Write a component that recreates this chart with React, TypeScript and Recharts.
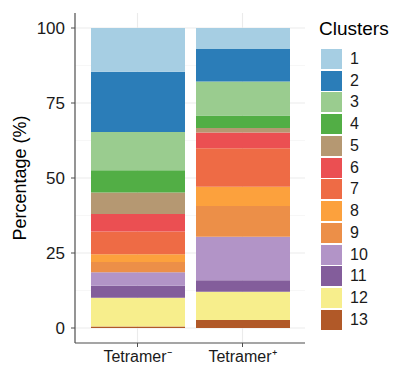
import { BarChart, Bar, XAxis, YAxis, CartesianGrid } from 'recharts';

const categories = ['Tetramer⁻', 'Tetramer⁺'];
const clusters = ['1', '2', '3', '4', '5', '6', '7', '8', '9', '10', '11', '12', '13'];
const clusterColors = [
  '#A6CEE3', '#2B7DB8', '#9ACC8F', '#52AE45', '#B59872', '#EB4F52', '#EE6B45',
  '#FCA13D', '#EC8F48', '#B294C7', '#835D9B', '#F7EE8C', '#B15928',
];
// percentage of cells per cluster in each group
const tetramerNeg = [14.6, 20.1, 12.7, 7.4, 7.2, 5.8, 7.6, 2.6, 3.4, 4.5, 4.0, 9.6, 0.5];
const tetramerPos = [7.0, 10.8, 11.4, 4.1, 1.5, 5.3, 12.8, 6.4, 10.3, 14.5, 3.8, 9.4, 2.7];
const yTicks = [0, 25, 50, 75, 100];
const yMinor = [12.5, 37.5, 62.5, 87.5];

const groups = [tetramerNeg, tetramerPos];
const data = categories.map((name, i) => {
  const row: Record<string, string | number> = { name };
  clusters.forEach((c, j) => {
    row['c' + c] = groups[i][j];
  });
  return row;
});

const font = '"Liberation Sans", Arial, sans-serif';
const borderColor = '#4D4D4D';
const xPad = 10;

function YLabel(props: any) {
  const { viewBox } = props;
  const x = viewBox.x + 20;
  const y = viewBox.y + viewBox.height / 2;
  return (
    <text
      x={x}
      y={y}
      transform={`rotate(-90 ${x} ${y})`}
      textAnchor="middle"
      dominantBaseline="central"
      fontSize={18}
      fill="#000"
      fontFamily={font}
    >
      Percentage (%)
    </text>
  );
}

// vertical grid lines through the middle of each category band
function categoryCentres(props: any) {
  const { offset } = props;
  const band = (offset.width - 2 * xPad) / categories.length;
  return categories.map((_, i) => offset.left + xPad + band * (i + 0.5));
}

export default function App() {
  return (
    <div style={{ position: 'absolute', left: 0, top: 0, width: 394, height: 367, background: '#fff' }}>
      <BarChart
        width={394}
        height={367}
        data={data}
        margin={{ top: 13, right: 89, bottom: 0, left: 0 }}
        style={{ fontFamily: font }}
      >
        <CartesianGrid
          horizontalValues={yMinor}
          vertical={false}
          stroke="#F2F2F2"
          strokeWidth={0.6}
        />
        <CartesianGrid
          horizontalValues={yTicks}
          verticalCoordinatesGenerator={categoryCentres}
          stroke="#EBEBEB"
          strokeWidth={1.1}
        />
        <XAxis
          dataKey="name"
          height={24}
          padding={{ left: xPad, right: xPad }}
          axisLine={{ stroke: borderColor, strokeWidth: 1.2 }}
          tickLine={{ stroke: borderColor }}
          tickSize={4}
          tickMargin={4}
          tick={{ fontSize: 16, fill: '#1A1A1A' }}
        />
        <XAxis xAxisId="top" orientation="top" dataKey="name" height={0} tick={false} tickLine={false}
          axisLine={{ stroke: borderColor, strokeWidth: 1.2 }} />
        <YAxis
          width={75}
          type="number"
          domain={[-5, 105]}
          ticks={yTicks}
          interval={0}
          axisLine={{ stroke: borderColor, strokeWidth: 1.2 }}
          tickLine={{ stroke: borderColor }}
          tickSize={4}
          tickMargin={6}
          tick={{ fontSize: 17, fill: '#1A1A1A' }}
          label={{ content: YLabel }}
        />
        <YAxis yAxisId="right" orientation="right" width={0} type="number" domain={[-5, 105]}
          tick={false} tickLine={false} axisLine={{ stroke: borderColor, strokeWidth: 1.2 }} />
        {clusters
          .map((c, j) => (
            <Bar
              key={c}
              dataKey={'c' + c}
              stackId="a"
              fill={clusterColors[j]}
              barSize={94}
              isAnimationActive={false}
            />
          ))
          .reverse()}
      </BarChart>
      <div style={{ position: 'absolute', left: 319, top: 18, fontFamily: font }}>
        <div style={{ fontSize: 19, lineHeight: '22px', color: '#000', marginBottom: 8 }}>Clusters</div>
        {clusters.map((c, j) => (
          <div key={c} style={{ display: 'flex', alignItems: 'center', height: 21.75 }}>
            <div style={{ width: 21, height: 20, background: clusterColors[j], marginLeft: 2 }} />
            <span style={{ fontSize: 16, marginLeft: 8, color: '#1A1A1A' }}>{c}</span>
          </div>
        ))}
      </div>
    </div>
  );
}
